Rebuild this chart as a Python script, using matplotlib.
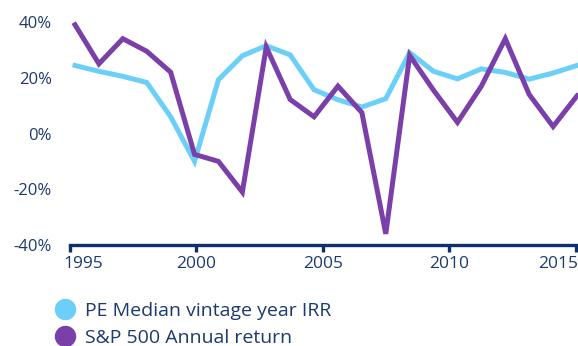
import matplotlib.pyplot as plt
import matplotlib.transforms as mtransforms
from matplotlib.lines import Line2D
import numpy as np

plt.rcParams['font.family'] = ['Open Sans', 'DejaVu Sans']

# annual values, 1995-2016 (%)
pe_irr = [24.4, 22.3, 20.5, 18.3, 6.0, -10.0, 19.3, 27.9, 31.5, 28.2, 15.7,
          12.1, 9.5, 12.5, 29.0, 22.3, 19.6, 23.2, 21.9, 19.5, 21.7, 24.4]
sp500 = [39.0, 25.0, 34.0, 29.5, 22.0, -7.5, -10.0, -21.0, 31.0, 12.2, 6.0,
         17.0, 7.5, -36.0, 28.0, 15.5, 4.0, 17.0, 34.0, 14.0, 2.5, 13.5]
tick_years = [1995, 2000, 2005, 2010, 2015]
y_ticks = [-40, -20, 0, 20, 40]

navy = '#0d2f6e'
text_col = '#1d3a6c'
blue = '#6ccff8'
purple = '#7a3fa8'

x = np.arange(len(sp500))
# year ticks sit on a slightly wider spacing than the data points
tick_pos = [-0.21 + (y - 1995) * 1.058 for y in tick_years]

fig = plt.figure(figsize=(5.78, 3.46), dpi=100)
ax = fig.add_axes([70 / 578, 1 - 245 / 346, 507 / 578, 223 / 346])

ax.plot(x, pe_irr, color=blue, lw=3.6, clip_on=False, solid_joinstyle='miter')
ax.plot(x, sp500, color=purple, lw=3.6, clip_on=False, solid_joinstyle='miter')

ax.set_xlim(-0.21, 21.0)
ax.set_ylim(-40, 40)

for s in ['top', 'right', 'left']:
    ax.spines[s].set_visible(False)
ax.spines['bottom'].set_color(navy)
ax.spines['bottom'].set_linewidth(2.4)

ax.set_xticks(tick_pos)
ax.set_xticklabels([str(y) for y in tick_years])
ax.set_yticks(y_ticks)
ax.set_yticklabels([f'{v}%' for v in y_ticks])
ax.tick_params(axis='x', colors=navy, length=5, width=2.4, pad=3,
               labelsize=12.5, labelcolor=text_col)
ax.tick_params(axis='y', length=0, pad=13, labelsize=12, labelcolor=text_col)

# keep the end labels inside the figure
xlabels = ax.get_xticklabels()
xlabels[0].set_transform(xlabels[0].get_transform() +
                         mtransforms.ScaledTranslation(13 / 100, 0, fig.dpi_scale_trans))
xlabels[-1].set_horizontalalignment('right')
xlabels[-1].set_transform(xlabels[-1].get_transform() +
                          mtransforms.ScaledTranslation(2 / 100, 0, fig.dpi_scale_trans))

handles = [
    Line2D([], [], ls='', marker='o', ms=14.4, color=blue),
    Line2D([], [], ls='', marker='o', ms=14.4, color=purple),
]
fig.legend(handles, ['PE Median vintage year IRR', 'S&P 500 Annual return'],
           loc='upper left', bbox_to_anchor=(53 / 578, 1 - 302 / 346),
           frameon=False, fontsize=14, labelcolor=text_col,
           handletextpad=0.45, labelspacing=0.45, borderaxespad=0, borderpad=0,
           handlelength=1.2)

fig.savefig('out.png', dpi=100)
